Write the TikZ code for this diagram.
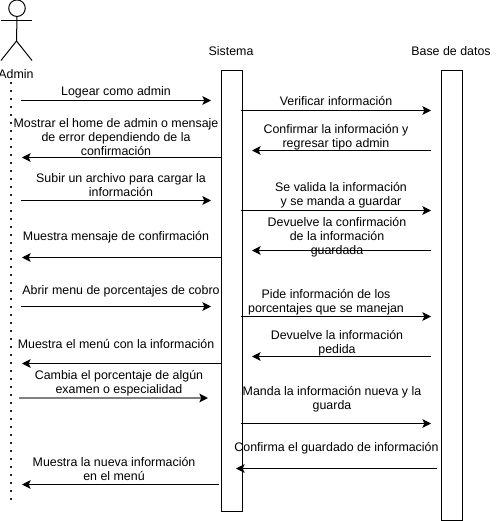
\documentclass[tikz,border=0pt]{standalone}
\usepackage{fontspec}
\setmainfont{Liberation Sans}
\usetikzlibrary{arrows.meta}
\tikzset{
  px/.style={x=0.75pt,y=-0.75pt},
  lifebox/.style={draw=black,fill=white,line width=0.75pt,minimum width=15.75pt,inner sep=0pt,anchor=north west},
  lbl/.style={font=\fontsize{9.3}{10.5}\selectfont,align=center,inner sep=0pt,text=black,yshift=-0.4pt},
  msg/.style={draw=black,line width=0.75pt,-{Stealth[length=6.5pt,width=6.5pt,inset=1.5pt]}},
  actorline/.style={draw=black,line width=0.75pt},
  lifedots/.style={draw=black!85,line width=1.3pt,dash pattern=on 1.3pt off 4.7pt}
}
\begin{document}
\begin{tikzpicture}[px]
\useasboundingbox (0,0) rectangle (502,521);
% actor
\node[draw=black,line width=0.75pt,circle,minimum size=12.4pt,inner sep=0pt] (head) at (17,8.2) {};
\coordinate (hip) at (16.5,41);
\coordinate (armL) at (1,20.5);
\coordinate (armR) at (32,20.5);
\coordinate (legL) at (1,60.5);
\coordinate (legR) at (32,60.5);
\draw[actorline] (head.south) -- (hip);
\draw[actorline] (armL) -- (armR);
\draw[actorline] (legL) -- (hip) -- (legR);
\node[lbl] (admin) at (16,73.5) {Admin};
\coordinate (lifeTop) at (11,82);
\coordinate (lifeEnd) at (11,502);
\draw[lifedots] (lifeTop) -- (lifeEnd);
% boxes
\node[lifebox,minimum height=330.4pt] (sis) at (221,70) {};
\node[lifebox,minimum height=337.6pt] (bd) at (441,70) {};
\node[lbl] (tsis) at (231,51) {Sistema};
\node[lbl] (tbd) at (451,51) {Base de datos};
% left messages
\coordinate (a1) at (21,100.5); \coordinate (b1) at (211,100.5);
\draw[msg] (a1) -- (b1);
\node[lbl] (l1) at (116,91.6) {Logear como admin};
\coordinate (a2) at (221.5,157.5); \coordinate (b2) at (22,157.5);
\draw[msg] (a2) -- (b2);
\node[lbl] (l2) at (116,136.5) {Mostrar el home de admin o mensaje\\de error dependiendo de la\\confirmación};
\coordinate (a3) at (21,200.5); \coordinate (b3) at (211,200.5);
\draw[msg] (a3) -- (b3);
\node[lbl] (l3) at (121,185) {Subir un archivo para cargar la\\información};
\coordinate (a4) at (221.5,257.5); \coordinate (b4) at (22,257.5);
\draw[msg] (a4) -- (b4);
\node[lbl] (l4) at (116,237) {Muestra mensaje de confirmación};
\coordinate (a5) at (21,306.5); \coordinate (b5) at (211,306.5);
\draw[msg] (a5) -- (b5);
\node[lbl] (l5) at (121,291) {Abrir menu de porcentajes de cobro};
\coordinate (a6) at (221.5,363.5); \coordinate (b6) at (22,363.5);
\draw[msg] (a6) -- (b6);
\node[lbl] (l6) at (116,343) {Muestra el menú con la información};
\coordinate (a7) at (19,398); \coordinate (b7) at (208,398);
\draw[msg,draw=black!50,line width=1.5pt,-{Stealth[length=6.5pt,width=6.5pt,inset=1.5pt,black]}] (a7) -- (b7);
\node[lbl] (l7) at (119,383) {Cambia el porcentaje de algún\\examen o especialidad};
\coordinate (a8) at (219,484.5); \coordinate (b8) at (22,484.5);
\draw[msg] (a8) -- (b8);
\node[lbl] (l8) at (114,468) {Muestra la nueva información\\en el menú};
% right messages
\coordinate (c1) at (241,110.5); \coordinate (d1) at (431,110.5);
\draw[msg] (c1) -- (d1);
\node[lbl] (r1) at (336,100.4) {Verificar información};
\coordinate (c2) at (431,150.5); \coordinate (d2) at (252,150.5);
\draw[msg] (c2) -- (d2);
\node[lbl] (r2) at (336,137) {Confirmar la información y\\regresar tipo admin};
\coordinate (c3) at (241,210.5); \coordinate (d3) at (431,210.5);
\draw[msg] (c3) -- (d3);
\node[lbl] (r3) at (341,195) {Se valida la información\\y se manda a guardar};
\coordinate (c4) at (431,250.5); \coordinate (d4) at (252,250.5);
\draw[msg] (c4) -- (d4);
\node[lbl] (r4) at (337,237) {Devuelve la confirmación\\de la información\\guardada};
\coordinate (c5) at (241,316.5); \coordinate (d5) at (431,316.5);
\draw[msg] (c5) -- (d5);
\node[lbl] (r5) at (326,301.6) {Pide información de los\\porcentajes que se manejan};
\coordinate (c6) at (431,356.5); \coordinate (d6) at (252,356.5);
\draw[msg] (c6) -- (d6);
\node[lbl] (r6) at (337,343) {Devuelve la información\\pedida};
\coordinate (c7) at (241,423.5); \coordinate (d7) at (431,423.5);
\draw[msg] (c7) -- (d7);
\node[lbl] (r7) at (332,399) {Manda la información nueva y la\\guarda};
\coordinate (c8) at (437,468.5); \coordinate (d8) at (236,468.5);
\draw[msg] (c8) -- (d8);
\node[lbl] (r8) at (336.5,448) {Confirma el guardado de información};
\end{tikzpicture}
\end{document}
